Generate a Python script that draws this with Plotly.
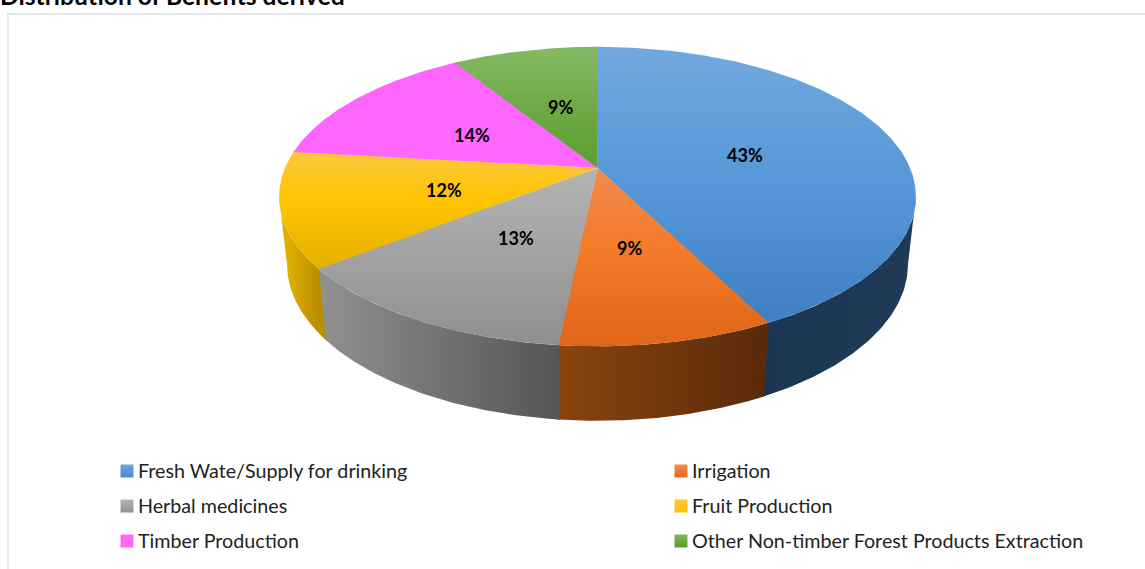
import numpy as np
import plotly.graph_objects as go

# ---- data ----
categories = ["Fresh Wate/Supply for drinking", "Irrigation", "Herbal medicines",
              "Fruit Production", "Timber Production",
              "Other Non-timber Forest Products Extraction"]
shares = [42.5, 9.1, 12.8, 12.4, 14.3, 8.9]
percent_labels = ["43%", "9%", "13%", "12%", "14%", "9%"]
title_text = "Distribution of Benefits derived"

# ---- styling ----
FONT = "Lato, Carlito, Calibri, sans-serif"
top_scales = [
    [[0, "#72a8de"], [0.5, "#5597d8"], [1, "#3f7fc2"]],
    [[0, "#f08a50"], [0.45, "#f47b28"], [1, "#df6518"]],
    [[0, "#b4b4b4"], [1, "#8f8f8f"]],
    [[0, "#fec83f"], [0.42, "#fdc401"], [1, "#e5b000"]],
    [[0, "#ff66ff"], [1, "#ff66ff"]],
    [[0, "#85ba63"], [0.5, "#6eaa45"], [1, "#5c9e2e"]],
]
top_span = [(47, 325), (168, 346), (168, 346), (152, 268), (63, 168), (47, 168)]
side_scales = [
    [[0, "#1b3651"], [1, "#1e3b59"]],
    [[0, "#8a450f"], [1, "#592a09"]],
    [[0, "#8f8f8f"], [1, "#555555"]],
    [[0, "#e2af00"], [1, "#b88e00"]],
    [[0, "#ff66ff"], [1, "#ff66ff"]],
    [[0, "#5c9e2e"], [1, "#5c9e2e"]],
]
swatch = [("#6ea6de", "#4a8bd0"), ("#f48a4c", "#e26a1c"), ("#b4b4b4", "#8f8f8f"),
          ("#fec83f", "#fdc000"), ("#ff66ff", "#ff66ff"), ("#7fb65c", "#5c9e2e")]
label_xy = [(745, 155), (629, 248), (516, 238), (444, 190), (472, 135), (560, 107)]
legend_xy = [(127, 471), (681, 471), (127, 506), (681, 506), (127, 541), (681, 541)]

# ---- projection of the tilted disc onto the page ----
CX, CY, K, A, B = 597.5, 168.0, 0.1906, 312.6, 144.3


def rim(theta_deg):
    t = np.radians(theta_deg)
    w = 1 + K * np.cos(t)
    return CX + A * np.sin(t) / w, CY - B * np.cos(t) / w


def lower(x, y):
    return CX + (x - CX) * 0.975, y + 66.5 + 0.045 * (y - CY)


edges = np.concatenate([[0], np.cumsum(shares)]) / np.sum(shares) * 360
sil = np.degrees(np.arccos(-K))          # silhouette angles of the disc edge
SEAM = 0.25                              # slight overlap so no hairline shows between slices
last = len(categories) - 1
fig = go.Figure()

# sides first
for i, name in enumerate(categories):
    a0, a1 = max(edges[i], sil), min(edges[i + 1] + SEAM, 360 - sil)
    if a1 <= a0:
        continue
    th = np.linspace(a0, a1, 80)
    x, y = rim(th)
    xl, yl = lower(x, y)
    fig.add_trace(go.Scatter(
        x=np.r_[x, xl[::-1]], y=np.r_[y, yl[::-1]], mode="lines", fill="toself",
        line=dict(width=0), showlegend=False, hoverinfo="skip",
        fillgradient=dict(type="horizontal", colorscale=side_scales[i],
                          start=float(xl.min()), stop=float(x.max()))))

# top faces, each one painted over the small overlap of the one before it
for i, name in enumerate(categories):
    start = edges[i] - (SEAM if i == 0 else 0)
    stop = edges[i + 1] + (SEAM if i < last else 0)
    th = np.linspace(start, stop, 160)
    x, y = rim(th)
    fig.add_trace(go.Scatter(
        x=np.r_[CX, x, CX], y=np.r_[CY, y, CY], mode="lines", fill="toself",
        line=dict(width=0), showlegend=False, name=name, hoverinfo="name",
        fillgradient=dict(type="vertical", colorscale=top_scales[i],
                          start=top_span[i][0], stop=top_span[i][1])))

annotations = []
for i, (lx, ly) in enumerate(label_xy):
    annotations.append(dict(x=lx, y=ly, text=f"<b>{percent_labels[i]}</b>", showarrow=False,
                            font=dict(family=FONT, size=18, color="#000000")))

# legend
for i, name in enumerate(categories):
    mx, my = legend_xy[i]
    fig.add_trace(go.Scatter(
        x=[mx], y=[my], mode="markers", showlegend=False, hoverinfo="skip",
        marker=dict(symbol="square", size=13, color=swatch[i][0], line=dict(width=0),
                    gradient=dict(type="vertical", color=swatch[i][1]))))
    annotations.append(dict(x=mx + 8.5, y=my - 0.7, text=name, showarrow=False, xanchor="left",
                            font=dict(family=FONT, size=19.7, color="#222222")))

annotations.append(dict(xref="paper", yref="paper", x=0, y=1.0, text=f"<b>{title_text}</b>",
                        showarrow=False, xanchor="left", yanchor="middle", xshift=-2, yshift=5,
                        font=dict(family=FONT, size=24.6, color="#000000")))

axis = dict(visible=False, fixedrange=True)
fig.update_layout(
    width=1145, height=569, margin=dict(l=0, r=0, t=0, b=0),
    paper_bgcolor="white", plot_bgcolor="white",
    xaxis=dict(range=[0, 1145], **axis),
    yaxis=dict(range=[569, 0], **axis),
    annotations=annotations,
    shapes=[dict(type="rect", x0=8, y0=14, x1=1200, y1=600, line=dict(color="#e3e7ec", width=2),
                 layer="below")],
)
fig.write_html("out.html", config=dict(displayModeBar=False),
               post_script="document.body.style.margin='0';")
